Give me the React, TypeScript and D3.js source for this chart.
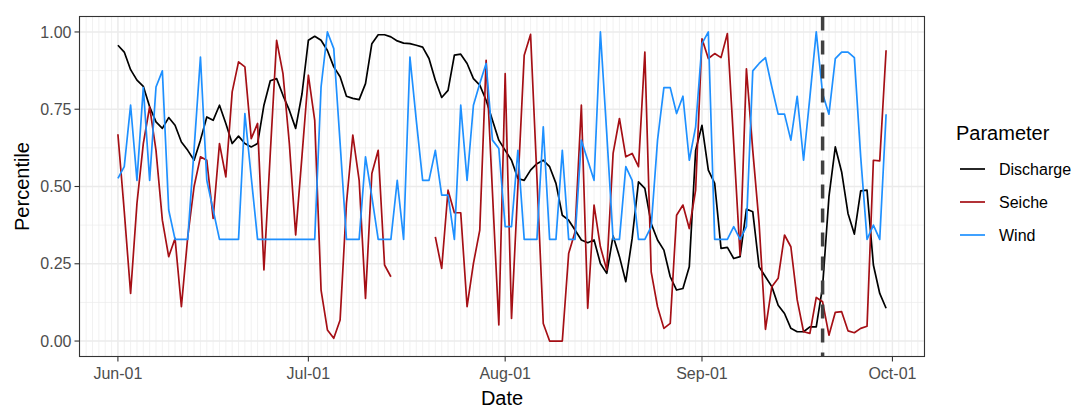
import React from "react";
import * as d3 from "d3";

const START = "2021-06-01";
const EVENT_DATE = "2021-09-20";

const discharge: number[] = [
  0.957, 0.935, 0.878, 0.844, 0.824, 0.758, 0.709, 0.688, 0.723, 0.698,
  0.644, 0.617, 0.585, 0.65, 0.725, 0.714, 0.763, 0.704, 0.639, 0.663,
  0.639, 0.628, 0.639, 0.763, 0.842, 0.849, 0.795, 0.747, 0.688, 0.8,
  0.973, 0.986, 0.973, 0.94, 0.887, 0.855, 0.792, 0.785, 0.781, 0.833,
  0.962, 0.991, 0.991, 0.984, 0.971, 0.964, 0.962, 0.957, 0.951, 0.914,
  0.844, 0.788, 0.811, 0.925, 0.928, 0.898, 0.849, 0.828, 0.779, 0.714,
  0.65, 0.617, 0.585, 0.526, 0.52, 0.553, 0.574, 0.585, 0.564, 0.51,
  0.407, 0.391, 0.359, 0.327, 0.318, 0.327, 0.251, 0.219, 0.34, 0.273,
  0.192, 0.332, 0.515, 0.494, 0.38, 0.327, 0.294, 0.208, 0.165, 0.17,
  0.24, 0.617, 0.698, 0.553, 0.51, 0.3, 0.303, 0.267, 0.273, 0.427,
  0.418, 0.24, 0.208, 0.176, 0.116, 0.089, 0.041, 0.03, 0.03, 0.046,
  0.046, 0.176, 0.467, 0.628, 0.547, 0.413, 0.346, 0.486, 0.488, 0.246,
  0.154, 0.106,
];

const seiche: (number | null)[] = [
  0.669, 0.42, 0.154, 0.445, 0.639, 0.758, 0.617, 0.391, 0.273, 0.332,
  0.111, 0.337, 0.5, 0.596, 0.585, 0.397, 0.639, 0.531, 0.806, 0.903,
  0.887, 0.655, 0.704, 0.23, 0.607, 0.973, 0.865, 0.64, 0.343, 0.6,
  0.86, 0.714, 0.165, 0.036, 0.009, 0.068, 0.445, 0.666, 0.52, 0.138,
  0.542, 0.617, 0.246, 0.208, null, null, null, null, null, null,
  0.337, 0.235, 0.488, 0.415, 0.415, 0.111, 0.251, 0.359, 0.908, 0.48,
  0.052, 0.865, 0.073, 0.5, 0.925, 0.992, 0.53, 0.057, 0.0, 0.0,
  0.0, 0.283, 0.353, 0.763, 0.106, 0.44, 0.305, 0.23, 0.607, 0.72,
  0.596, 0.607, 0.564, 0.935, 0.224, 0.111, 0.041, 0.057, 0.407, 0.44,
  0.364, 0.488, 0.978, 0.914, 0.93, 0.917, 0.995, 0.639, 0.278, 0.881,
  0.617, 0.38, 0.038, 0.176, 0.203, 0.343, 0.305, 0.133, 0.03, 0.025,
  0.141, 0.127, 0.019, 0.093, 0.095, 0.033, 0.027, 0.041, 0.048, 0.585,
  0.583, 0.941,
];

const wind: number[] = [
  0.526, 0.564, 0.763, 0.52, 0.82, 0.52, 0.822, 0.874, 0.424, 0.329,
  0.329, 0.329, 0.62, 0.919, 0.52, 0.424, 0.329, 0.329, 0.329, 0.329,
  0.736, 0.53, 0.329, 0.329, 0.329, 0.329, 0.329, 0.329, 0.329, 0.329,
  0.329, 0.329, 0.822, 1.0, 0.946, 0.64, 0.329, 0.329, 0.329, 0.596,
  0.467, 0.329, 0.329, 0.329, 0.52, 0.329, 0.919, 0.714, 0.52, 0.52,
  0.617, 0.472, 0.472, 0.329, 0.763, 0.52, 0.763, 0.833, 0.898, 0.65,
  0.623, 0.37, 0.37, 0.617, 0.329, 0.329, 0.329, 0.693, 0.329, 0.329,
  0.617, 0.329, 0.329, 0.65, 0.585, 0.52, 1.0, 0.671, 0.329, 0.329,
  0.564, 0.52, 0.329, 0.329, 0.37, 0.65, 0.82, 0.82, 0.736, 0.792,
  0.585, 0.693, 0.962, 1.0, 0.329, 0.329, 0.329, 0.37, 0.329, 0.37,
  0.874, 0.898, 0.917, 0.822, 0.734, 0.734, 0.65, 0.792, 0.585, 0.79,
  1.0, 0.8, 0.734, 0.914, 0.935, 0.935, 0.917, 0.596, 0.329, 0.375,
  0.329, 0.734,
];

const seriesNames = ["Discharge", "Seiche", "Wind"];
const seriesColors = ["#000000", "#A50F15", "#1E90FF"];
const yTicks = [0, 0.25, 0.5, 0.75, 1];
const yMinorTicks = [0.125, 0.375, 0.625, 0.875];
const xTickDates = ["2021-06-01", "2021-07-01", "2021-08-01", "2021-09-01", "2021-10-01"];
const xTickLabels = ["Jun-01", "Jul-01", "Aug-01", "Sep-01", "Oct-01"];

const FONT = "'Liberation Sans', Arial, Helvetica, sans-serif";

export default function App() {
  const W = 1074;
  const H = 409;
  const P = { left: 79.5, right: 924.5, top: 16.5, bottom: 356.5 };

  const parse = (s: string) => new Date(s + "T00:00:00Z");
  const start = parse(START);
  const dates = discharge.map((_, i) => d3.utcDay.offset(start, i));
  const first = dates[0];
  const last = dates[dates.length - 1];
  const span = last.getTime() - first.getTime();
  const x = d3
    .scaleUtc()
    .domain([new Date(first.getTime() - span * 0.05), new Date(last.getTime() + span * 0.05)])
    .range([P.left, P.right]);
  const y = d3.scaleLinear().domain([-0.05, 1.05]).range([P.bottom, P.top]);

  const minorDays = d3.utcDay.range(d3.utcDay.offset(start, -6), parse("2021-10-07"));
  const series = [discharge, seiche, wind];

  const line = d3
    .line<[Date, number | null]>()
    .defined((d) => d[1] != null)
    .x((d) => x(d[0]))
    .y((d) => y(d[1] as number));

  const legendX = 956;
  const legendKeyX1 = 960;
  const legendKeyX2 = 985;
  const legendYs = [169, 202, 235];

  return (
    <svg
      width={W}
      height={H}
      style={{ position: "absolute", left: 0, top: 0, background: "#fff" }}
      fontFamily={FONT}
    >
      <rect x={0} y={0} width={W} height={H} fill="#fff" />
      <defs>
        <clipPath id="panel">
          <rect x={P.left} y={P.top} width={P.right - P.left} height={P.bottom - P.top} />
        </clipPath>
      </defs>
      <g clipPath="url(#panel)">
        {minorDays.map((d, i) => (
          <line key={"vm" + i} x1={x(d)} x2={x(d)} y1={P.top} y2={P.bottom} stroke="#EBEBEB" strokeWidth={0.7} />
        ))}
        {yMinorTicks.map((t, i) => (
          <line key={"hm" + i} x1={P.left} x2={P.right} y1={y(t)} y2={y(t)} stroke="#EBEBEB" strokeWidth={0.7} />
        ))}
        {xTickDates.map((s, i) => (
          <line key={"vM" + i} x1={x(parse(s))} x2={x(parse(s))} y1={P.top} y2={P.bottom} stroke="#EBEBEB" strokeWidth={1.4} />
        ))}
        {yTicks.map((t, i) => (
          <line key={"hM" + i} x1={P.left} x2={P.right} y1={y(t)} y2={y(t)} stroke="#EBEBEB" strokeWidth={1.4} />
        ))}
        {series.map((vals, si) => (
          <path
            key={"s" + si}
            d={line(vals.map((v, i) => [dates[i], v] as [Date, number | null])) || ""}
            fill="none"
            stroke={seriesColors[si]}
            strokeWidth={1.7}
            strokeLinejoin="round"
          />
        ))}
        <line
          x1={x(parse(EVENT_DATE))}
          x2={x(parse(EVENT_DATE))}
          y1={P.top}
          y2={P.bottom}
          stroke="#404040"
          strokeWidth={3.5}
          strokeDasharray="14,10"
        />
      </g>
      <rect
        x={P.left}
        y={P.top}
        width={P.right - P.left}
        height={P.bottom - P.top}
        fill="none"
        stroke="#333333"
        strokeWidth={1.1}
      />
      {yTicks.map((t, i) => (
        <g key={"yt" + i}>
          <line x1={P.left - 5} x2={P.left} y1={y(t)} y2={y(t)} stroke="#333333" strokeWidth={1.1} />
          <text x={P.left - 8} y={y(t)} dy="0.35em" textAnchor="end" fontSize={16} fill="#4D4D4D">
            {t.toFixed(2)}
          </text>
        </g>
      ))}
      {xTickDates.map((s, i) => (
        <g key={"xt" + i}>
          <line x1={x(parse(s))} x2={x(parse(s))} y1={P.bottom} y2={P.bottom + 5} stroke="#333333" strokeWidth={1.1} />
          <text x={x(parse(s))} y={P.bottom + 17} dy="0.35em" textAnchor="middle" fontSize={16} fill="#4D4D4D">
            {xTickLabels[i]}
          </text>
        </g>
      ))}
      <text x={(P.left + P.right) / 2} y={405} textAnchor="middle" fontSize={20} fill="#000">
        Date
      </text>
      <text
        transform={`translate(22,${(P.top + P.bottom) / 2}) rotate(-90)`}
        dy="0.35em"
        textAnchor="middle"
        fontSize={20}
        fill="#000"
      >
        Percentile
      </text>
      <text x={legendX} y={133} dy="0.35em" fontSize={20} fill="#000">
        Parameter
      </text>
      {seriesNames.map((n, i) => (
        <g key={"lg" + i}>
          <line x1={legendKeyX1} x2={legendKeyX2} y1={legendYs[i]} y2={legendYs[i]} stroke={seriesColors[i]} strokeWidth={1.7} />
          <text x={999} y={legendYs[i]} dy="0.35em" fontSize={16} fill="#000">
            {n}
          </text>
        </g>
      ))}
    </svg>
  );
}
